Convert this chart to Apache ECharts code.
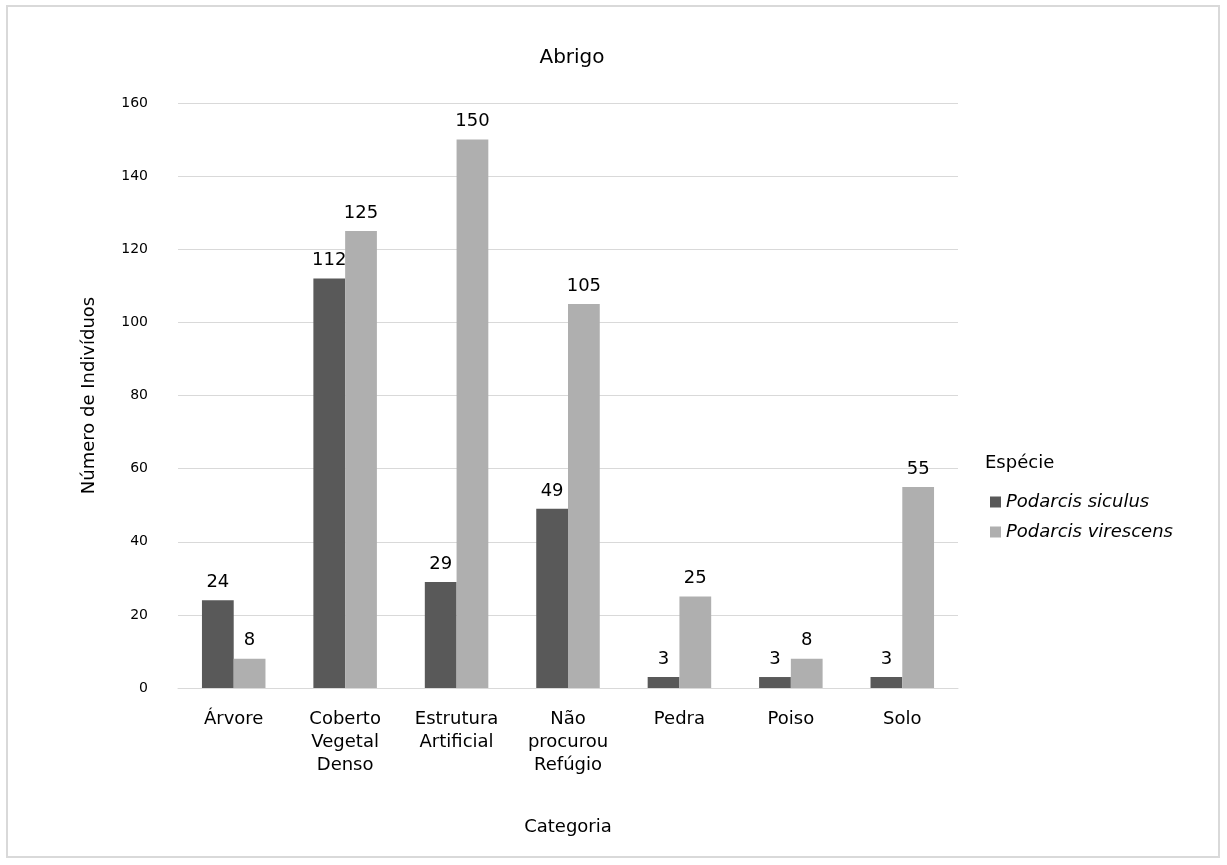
<!DOCTYPE html>
<html><head><meta charset="utf-8">
<script src="https://cdn.jsdelivr.net/npm/echarts@6/dist/echarts.min.js"></script>
<style>html,body{margin:0;padding:0;background:#fff}#c{width:1227px;height:865px}</style>
</head><body><div id="c"></div>
<script>
const categories = ['Árvore', 'Coberto\nVegetal\nDenso', 'Estrutura\nArtificial', 'Não\nprocurou\nRefúgio', 'Pedra', 'Poiso', 'Solo'];
const siculus = [24, 112, 29, 49, 3, 3, 3];
const virescens = [8, 125, 150, 105, 25, 8, 55];
const seriesNames = ['Podarcis siculus', 'Podarcis virescens'];
const F = 'DejaVu Sans';
const chart = echarts.init(document.getElementById('c'));
chart.setOption({
  animation: false,
  graphic: [
    {type: 'rect', shape: {x: 7, y: 6, width: 1212, height: 851}, style: {fill: 'none', stroke: '#d9d9d9', lineWidth: 2}},
    {type: 'text', left: 985, top: 454, style: {text: 'Espécie', font: '18px "DejaVu Sans"', fill: '#000'}}
  ],
  title: {text: 'Abrigo', left: 567, textAlign: 'center', top: 43, textStyle: {fontFamily: F, fontSize: 20, fontWeight: 'normal', color: '#000'}},
  grid: {left: 178, right: 269, top: 103, bottom: 177},
  legend: {
    orient: 'vertical', left: 985, top: 488, itemWidth: 11, itemHeight: 11, itemGap: 12, icon: 'rect',
    textStyle: {fontFamily: F, fontSize: 18, fontStyle: 'italic', color: '#000'},
    data: seriesNames
  },
  xAxis: {
    type: 'category', data: categories, name: 'Categoria', nameLocation: 'middle', nameGap: 130,
    nameTextStyle: {fontFamily: F, fontSize: 18, color: '#000'},
    axisLine: {lineStyle: {color: '#d9d9d9'}}, axisTick: {show: false},
    axisLabel: {fontFamily: F, fontSize: 18, color: '#000', lineHeight: 23, margin: 20, interval: 0}
  },
  yAxis: {
    type: 'value', min: 0, max: 160, interval: 20, name: 'Número de Indivíduos', nameLocation: 'middle', nameGap: 80,
    nameTextStyle: {fontFamily: F, fontSize: 18, color: '#000'},
    axisLine: {show: false}, axisTick: {show: false},
    axisLabel: {fontFamily: F, fontSize: 14, color: '#000', margin: 30},
    splitLine: {lineStyle: {color: '#d9d9d9'}}
  },
  series: [
    {name: seriesNames[0], type: 'bar', data: siculus, barGap: '0%', barCategoryGap: '43%', itemStyle: {color: '#595959'},
     label: {show: true, position: 'top', fontFamily: F, fontSize: 18, color: '#000', distance: 9}},
    {name: seriesNames[1], type: 'bar', data: virescens, itemStyle: {color: '#afafaf'},
     label: {show: true, position: 'top', fontFamily: F, fontSize: 18, color: '#000', distance: 9}}
  ]
});
</script></body></html>
